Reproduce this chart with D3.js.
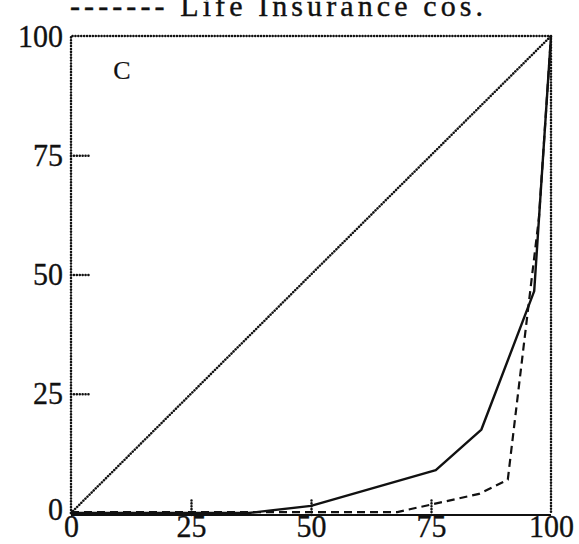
<!DOCTYPE html>
<html><head><meta charset="utf-8">
<script src="https://cdn.jsdelivr.net/npm/d3@7"></script>
<style>
body{margin:0;background:#fff;}
svg{display:block;}
text{font-family:"Liberation Serif","DejaVu Serif",serif;fill:#111;}
</style></head>
<body><svg id="c" width="579" height="544"></svg>
<script>
// Data
const xTicks = [0, 25, 50, 75, 100];
const yTicks = [0, 25, 50, 75, 100];
const titleText = "------- Life Insurance cos.";
const panelLabel = "C";
const equality = [[0,0],[100,100]];
const solidSeries = [[0,0],[37,0],[50,1.5],[76,9],[85.5,17.5],[96.5,46.5],[100,100]];
const dashedSeries = [[0,0.2],[68,0.2],[85,4],[91,7],[97.5,62],[100,100]];

const svg = d3.select("#c");
const x = d3.scaleLinear().domain([0,100]).range([71,551]);
const y = d3.scaleLinear().domain([0,100]).range([513,36]);
const SY = 1.08;
const ink = "#111";

const dot = {"stroke":ink,"stroke-width":2.5,"stroke-dasharray":"0.1,2.8","stroke-linecap":"round","fill":"none"};
function applyAttrs(sel, a){ for(const k in a) sel.attr(k,a[k]); return sel; }
const line = d3.line().x(d=>x(d[0])).y(d=>y(d[1]));

// frame: dotted left, top, right; solid bottom
applyAttrs(svg.append("path").attr("d", line([[0,0],[0,100],[100,100],[100,0]])), dot);
svg.append("line").attr("x1",x(0)).attr("x2",x(100)).attr("y1",y(0)+2).attr("y2",y(0)+2)
  .attr("stroke",ink).attr("stroke-width",2.2);

const fontSize = "30px";
// y axis
const yAxis = d3.axisLeft(y).tickValues(yTicks).tickSize(-18).tickFormat(d3.format("d"));
const gy = svg.append("g").attr("transform",`translate(${x(0)},0)`).call(yAxis);
gy.select(".domain").remove();
gy.selectAll(".tick line").each(function(d){
  const s = d3.select(this);
  if(d===0||d===100) s.remove(); else applyAttrs(s, dot);
});
gy.selectAll(".tick text").each(function(d){
  d3.select(this).attr("x",null).attr("dy",null).attr("y",null)
   .attr("transform",`translate(-8,${d===0?6:10}) scale(1,${SY})`)
   .attr("text-anchor","end").style("font-size",fontSize).style("stroke",ink).style("stroke-width",0.3);
});

// x axis
const xAxis = d3.axisBottom(x).tickValues(xTicks).tickSize(-16).tickFormat(d3.format("d"));
const gx = svg.append("g").attr("transform",`translate(0,${y(0)+2})`).call(xAxis);
gx.select(".domain").remove();
gx.selectAll(".tick line").each(function(d){
  const s = d3.select(this);
  if(d===0||d===100) s.remove(); else applyAttrs(s, dot);
});
gx.selectAll(".tick text").each(function(){
  d3.select(this).attr("y",null).attr("dy",null)
   .attr("transform",`translate(0,22) scale(1,${SY})`)
   .attr("text-anchor","middle").style("font-size",fontSize).style("stroke",ink).style("stroke-width",0.3);
});
svg.selectAll(".tick text").attr("fill",ink);

// equality diagonal (dotted)
applyAttrs(svg.append("path").attr("d", line(equality)), dot);

// series
svg.append("path").attr("d", line(solidSeries)).attr("fill","none")
  .attr("stroke",ink).attr("stroke-width",2.4).attr("stroke-linejoin","round");
svg.append("path").attr("d", line(dashedSeries)).attr("fill","none")
  .attr("stroke",ink).attr("stroke-width",2.2).attr("stroke-dasharray","8,5");

// title (cut at top)
svg.append("text").attr("x",70).attr("y",16)
  .attr("textLength",413).attr("lengthAdjust","spacing")
  .style("font-size","30px").style("stroke",ink).style("stroke-width",0.4)
  .text(titleText);

// panel label
svg.append("text").attr("x",122).attr("y",79)
  .attr("text-anchor","middle").style("font-size","26px").style("stroke",ink).style("stroke-width",0.2)
  .text(panelLabel);
</script></body></html>
